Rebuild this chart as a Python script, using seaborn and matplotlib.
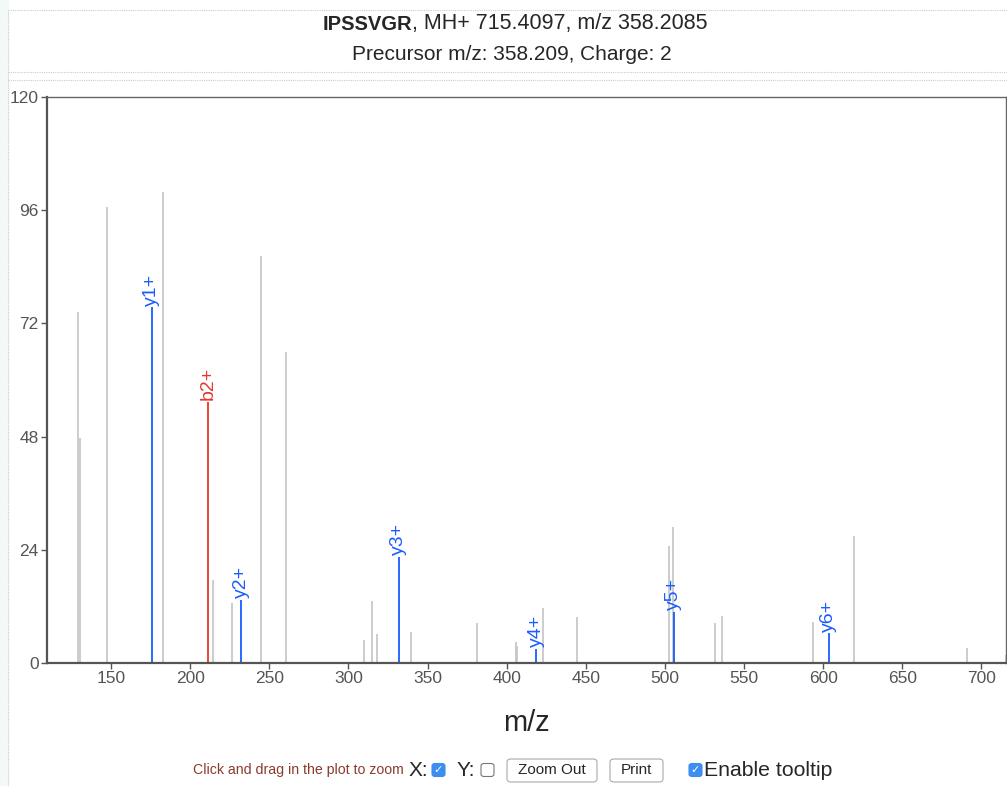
import seaborn as sns
import matplotlib.pyplot as plt
from matplotlib.patches import FancyBboxPatch, Rectangle
from matplotlib.lines import Line2D

# unlabelled peaks (m/z, intensity)
peak_mz = [109.5, 129.2, 130.1, 147.1, 183.1, 214.4, 226.4, 244.9, 260.8,
           309.7, 314.8, 318.2, 339.2, 381.4, 406.1, 406.8, 423.0, 444.7,
           502.3, 504.9, 531.6, 536.1, 593.5, 619.4, 691.1, 715.4]
peak_int = [51.5, 74.5, 47.6, 96.7, 99.8, 17.5, 12.7, 86.3, 65.9,
            4.9, 13.2, 6.1, 6.5, 8.4, 4.5, 3.5, 11.6, 9.7,
            24.7, 28.8, 8.4, 10.0, 8.6, 26.9, 3.1, 1.7]

# annotated fragment ions
ion_labels = ["y1+", "b2+", "y2+", "y3+", "y4+", "y5+", "y6+"]
ion_mz = [175.8, 211.2, 232.1, 331.8, 418.5, 505.5, 603.6]
ion_int = [75.5, 55.4, 13.4, 22.5, 3.0, 10.9, 6.3]
ion_colors = ["#1a5cff", "#e8352b", "#1a5cff", "#1a5cff", "#1a5cff", "#1a5cff", "#1a5cff"]

x_ticks = [150, 200, 250, 300, 350, 400, 450, 500, 550, 600, 650, 700]
y_ticks = [0, 24, 48, 72, 96, 120]

sns.set_style("white")
plt.rcParams["font.family"] = ["Liberation Sans", "DejaVu Sans"]

fig = plt.figure(figsize=(10.07, 7.86), dpi=100)
ax = fig.add_axes([47 / 1007, 1 - 663 / 786, 959 / 1007, 566 / 786])

ax.vlines(peak_mz, 0, peak_int, color="#c4c4c4", linewidth=1.2)
ax.vlines(ion_mz, 0, ion_int, color=ion_colors, linewidth=1.3)
for lab, x, y, c in zip(ion_labels, ion_mz, ion_int, ion_colors):
    ax.annotate(lab, (x, y), xytext=(0, 1), textcoords="offset points",
                rotation=90, ha="center", va="bottom", color=c, fontsize=14)

ax.set_xlim(109.5, 715.5)
ax.set_ylim(0, 120)
ax.set_xticks(x_ticks)
ax.set_yticks(y_ticks)
ax.tick_params(axis="both", labelsize=12.5, colors="#555555", length=4, width=1,
               direction="out", bottom=True, left=True, pad=2)
ax.set_xlabel("m/z", fontsize=21, labelpad=16)
for side in ["left", "bottom"]:
    ax.spines[side].set_color("#555555")
    ax.spines[side].set_linewidth(1.6)
for side in ["top", "right"]:
    ax.spines[side].set_color("#666666")
    ax.spines[side].set_linewidth(1.0)

# page decorations
fig.patches.append(Rectangle((0, 0), 8 / 1007, 1, transform=fig.transFigure,
                             color="#f3f8f9", zorder=0))
for yy in [10, 72, 80]:
    fig.add_artist(Line2D([8 / 1007, 1], [1 - yy / 786] * 2, color="#cccccc",
                          linestyle=(0, (1, 1)), linewidth=0.8))
fig.add_artist(Line2D([8 / 1007] * 2, [0, 1 - 10 / 786], color="#cccccc",
                      linestyle=(0, (1, 1)), linewidth=0.8))

# header
fig.text(412 / 1007, 1 - 24 / 786, "IPSSVGR", ha="right", va="center",
         fontsize=14.5, fontweight="bold")
fig.text(412 / 1007, 1 - 24 / 786, ", MH+ 715.4097, m/z 358.2085", ha="left",
         va="center", fontsize=15.5)
fig.text(512 / 1007, 1 - 54 / 786, "Precursor m/z: 358.209, Charge: 2",
         ha="center", va="center", fontsize=15)

# controls row
yc = 1 - 770 / 786
fig.text(193 / 1007, yc, "Click and drag in the plot to zoom", ha="left",
         va="center", fontsize=10.2, color="#8b3a2e")
fig.text(409 / 1007, yc, "X:", ha="left", va="center", fontsize=15)
fig.text(457 / 1007, yc, "Y:", ha="left", va="center", fontsize=15)
fig.text(704 / 1007, yc, "Enable tooltip", ha="left", va="center", fontsize=15.3)


def checkbox(x0, checked):
    w, h = 13 / 1007, 13 / 786
    box = FancyBboxPatch((x0 / 1007, yc - h / 2), w, h,
                         boxstyle="round,pad=0,rounding_size=0.003",
                         transform=fig.transFigure,
                         facecolor="#3d8ef0" if checked else "white",
                         edgecolor="#3d8ef0" if checked else "#777777", linewidth=0.8)
    fig.patches.append(box)
    if checked:
        fig.text(x0 / 1007 + w / 2, yc, "\u2713", ha="center", va="center",
                 fontsize=8, color="white", family="DejaVu Sans")


def button(x0, x1, label):
    box = FancyBboxPatch((x0 / 1007, 1 - 782 / 786), (x1 - x0) / 1007, 23 / 786,
                         boxstyle="round,pad=0,rounding_size=0.004",
                         transform=fig.transFigure, facecolor="white",
                         edgecolor="#aaaaaa", linewidth=0.8)
    fig.patches.append(box)
    fig.text((x0 + x1) / 2 / 1007, yc, label, ha="center", va="center", fontsize=11)


checkbox(432, True)
checkbox(481, False)
button(507, 597, "Zoom Out")
button(610, 663, "Print")
checkbox(689, True)

fig.savefig("out.png", dpi=100)
